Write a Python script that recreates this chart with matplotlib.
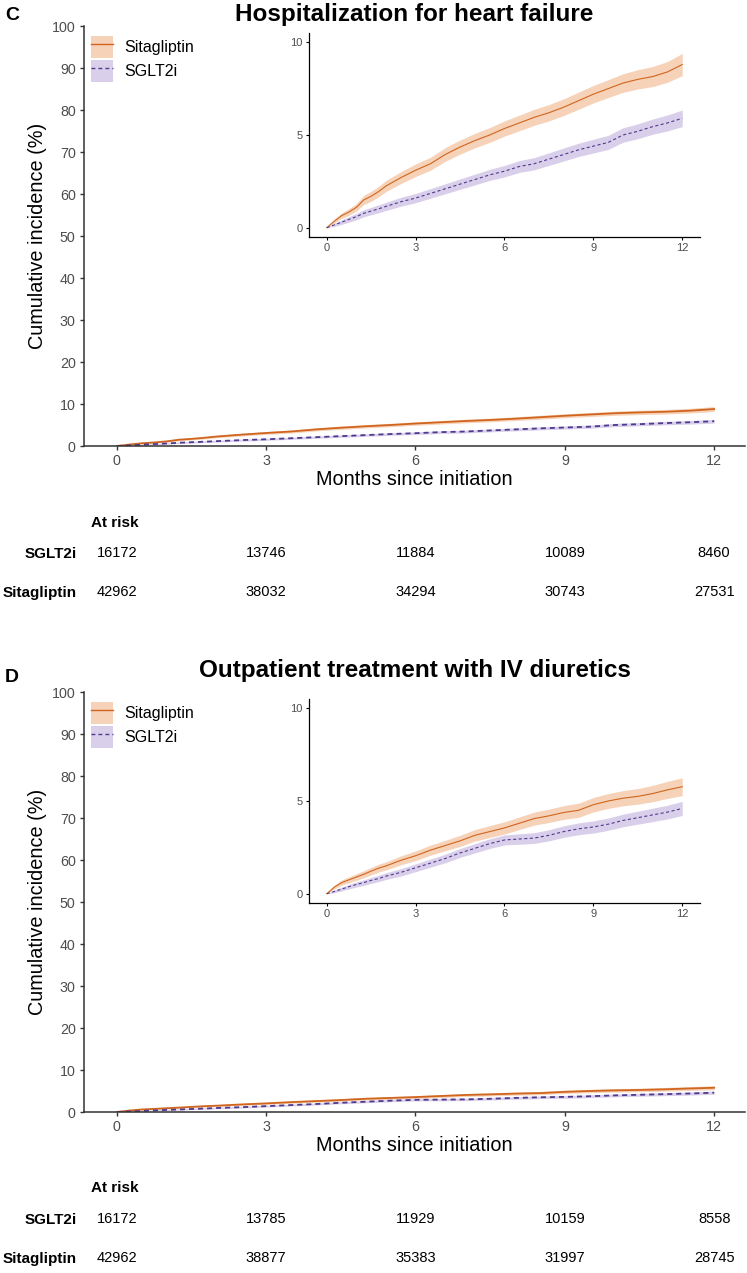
import numpy as np
import matplotlib
matplotlib.use('Agg')
import matplotlib.pyplot as plt
from matplotlib.patches import Patch
from matplotlib.lines import Line2D
from matplotlib.legend_handler import HandlerTuple
from matplotlib.transforms import blended_transform_factory

plt.rcParams['font.family'] = ['Liberation Sans', 'DejaVu Sans']

# months since initiation (shared grid for all curves)
months = [0, 0.25, 0.5, 0.75, 1.0, 1.25, 1.5, 1.75, 2.0, 2.5, 3.0, 3.5, 4.0, 4.5,
          5.0, 5.5, 6.0, 6.5, 7.0, 7.5, 8.0, 8.5, 9.0, 9.5, 10.0, 10.5, 11.0, 11.5, 12.0]

# C: hospitalization for heart failure, cumulative incidence (%)
hhf_sita = [0, 0.35, 0.65, 0.85, 1.1, 1.5, 1.7, 1.95, 2.25, 2.7, 3.1, 3.45, 3.95, 4.35,
            4.7, 5.0, 5.35, 5.65, 5.95, 6.2, 6.5, 6.85, 7.2, 7.5, 7.8, 8.0, 8.15, 8.4, 8.8]
hhf_sglt = [0, 0.15, 0.3, 0.45, 0.6, 0.78, 0.9, 1.02, 1.15, 1.4, 1.6, 1.85, 2.1, 2.35,
            2.6, 2.85, 3.05, 3.3, 3.45, 3.7, 3.95, 4.2, 4.4, 4.6, 5.0, 5.2, 5.45, 5.65, 5.9]
hhf_sita_hw = [0, 0.1, 0.15, 0.18, 0.2, 0.25, 0.27, 0.28, 0.3, 0.32, 0.34, 0.35, 0.37, 0.38,
               0.39, 0.4, 0.41, 0.42, 0.43, 0.44, 0.45, 0.46, 0.47, 0.48, 0.5, 0.52, 0.54, 0.56, 0.6]
hhf_sglt_hw = [0, 0.08, 0.12, 0.15, 0.17, 0.19, 0.2, 0.21, 0.22, 0.24, 0.25, 0.26, 0.27, 0.28,
               0.29, 0.3, 0.31, 0.32, 0.33, 0.34, 0.35, 0.36, 0.37, 0.38, 0.39, 0.4, 0.41, 0.43, 0.45]

# D: outpatient treatment with IV diuretics
ivd_sita = [0, 0.35, 0.6, 0.75, 0.9, 1.05, 1.22, 1.38, 1.5, 1.8, 2.05, 2.35, 2.6, 2.85,
            3.15, 3.35, 3.55, 3.8, 4.05, 4.2, 4.38, 4.5, 4.8, 5.0, 5.15, 5.25, 5.4, 5.6, 5.77]
ivd_sglt = [0, 0.12, 0.25, 0.38, 0.5, 0.6, 0.72, 0.82, 0.95, 1.15, 1.4, 1.65, 1.9, 2.2,
            2.45, 2.7, 2.9, 2.95, 3.0, 3.15, 3.35, 3.5, 3.6, 3.75, 3.95, 4.1, 4.25, 4.4, 4.6]
ivd_sita_hw = [0, 0.1, 0.14, 0.16, 0.18, 0.19, 0.2, 0.21, 0.22, 0.24, 0.26, 0.27, 0.28, 0.3,
               0.31, 0.32, 0.33, 0.34, 0.35, 0.36, 0.37, 0.38, 0.39, 0.4, 0.41, 0.42, 0.44, 0.46, 0.48]
ivd_sglt_hw = [0, 0.07, 0.1, 0.12, 0.14, 0.15, 0.16, 0.17, 0.18, 0.2, 0.21, 0.22, 0.23, 0.24,
               0.25, 0.26, 0.27, 0.28, 0.29, 0.3, 0.31, 0.32, 0.33, 0.33, 0.34, 0.35, 0.36, 0.37, 0.38]

risk_months = [0, 3, 6, 9, 12]
hhf_risk_sglt = [16172, 13746, 11884, 10089, 8460]
hhf_risk_sita = [42962, 38032, 34294, 30743, 27531]
ivd_risk_sglt = [16172, 13785, 11929, 10159, 8558]
ivd_risk_sita = [42962, 38877, 35383, 31997, 28745]

SITA_LINE = '#D0651F'
SITA_FILL = '#F6D2B8'
SGLT_LINE = '#4E3A8E'
SGLT_FILL = '#D9CFEA'
GREY = '#4D4D4D'
AXIS = '#333333'
DASH = (0, (2.8, 2.2))

W, H = 747, 1273


def box(l, t, r, b):
    return [l / W, 1 - b / H, (r - l) / W, (b - t) / H]


def fy(p):
    return 1 - p / H


def draw_curves(ax, sita, sglt, sita_hw, sglt_hw, lw):
    t = np.array(months)
    s1, s2 = np.array(sita), np.array(sglt)
    h1, h2 = np.array(sita_hw), np.array(sglt_hw)
    ax.fill_between(t, s1 - h1, s1 + h1, color=SITA_FILL, lw=0)
    ax.fill_between(t, s2 - h2, s2 + h2, color=SGLT_FILL, lw=0)
    ax.plot(t, s1, color=SITA_LINE, lw=lw)
    ax.plot(t, s2, color=SGLT_LINE, lw=lw, linestyle=DASH)


def draw_panel(fig, dy, letter, letter_y, title, title_y,
               sita, sglt, sita_hw, sglt_hw, risk_sglt, risk_sita):
    # main axes
    ax = fig.add_axes(box(84, 26 + dy, 745, 446 + dy))
    draw_curves(ax, sita, sglt, sita_hw, sglt_hw, 1.3)
    ax.set_xlim(-0.66, 12.62)
    ax.set_ylim(0, 100)
    ax.set_xticks(risk_months)
    ax.set_yticks(range(0, 101, 10))
    for s in ['top', 'right']:
        ax.spines[s].set_visible(False)
    for s in ['left', 'bottom']:
        ax.spines[s].set_color(AXIS)
        ax.spines[s].set_linewidth(1.1)
    ax.tick_params(labelsize=10.3, labelcolor=GREY, color=AXIS, length=3, width=1, pad=3)

    handles = [(Patch(fc=SITA_FILL, ec='none'), Line2D([], [], color=SITA_LINE, lw=1)),
               (Patch(fc=SGLT_FILL, ec='none'),
                Line2D([], [], color=SGLT_LINE, lw=1, linestyle=DASH))]
    ax.legend(handles, ['Sitagliptin', 'SGLT2i'],
              handler_map={tuple: HandlerTuple(ndivide=1, pad=0)},
              loc='upper left', bbox_to_anchor=(91 / W, fy(36 + dy)),
              bbox_transform=fig.transFigure, frameon=False, borderpad=0, borderaxespad=0,
              handlelength=1.38, handleheight=1.74, labelspacing=0.1, handletextpad=0.69,
              fontsize=11.5)

    # inset
    ins = fig.add_axes(box(309, 33 + dy, 700, 237 + dy))
    draw_curves(ins, sita, sglt, sita_hw, sglt_hw, 0.8)
    ins.set_xlim(-0.6, 12.6)
    ins.set_ylim(-0.5, 10.5)
    ins.set_xticks(risk_months)
    ins.set_yticks([0, 5, 10])
    for s in ['top', 'right']:
        ins.spines[s].set_visible(False)
    for s in ['left', 'bottom']:
        ins.spines[s].set_linewidth(0.9)
    ins.tick_params(labelsize=8, labelcolor=GREY, length=2.5, width=0.8, pad=2)
    ins.patch.set_alpha(0)

    # text
    fig.text(12 / W, fy(letter_y), letter, ha='center', va='baseline',
             fontsize=14, fontweight='bold')
    fig.text(414.5 / W, fy(title_y), title, ha='center', va='baseline',
             fontsize=17.5, fontweight='bold')
    fig.text(38 / W, fy(236 + dy), 'Cumulative incidence (%)', rotation=90,
             ha='center', va='center', fontsize=14.3)
    fig.text(414.5 / W, fy(485 + dy), 'Months since initiation', ha='center',
             va='baseline', fontsize=14.3)

    # at risk table
    tr = blended_transform_factory(ax.transData, fig.transFigure)
    fig.text(91 / W, fy(526.5 + dy), 'At risk', ha='left', va='baseline',
             fontsize=11, fontweight='bold')
    for name, vals, yc in [('SGLT2i', risk_sglt, 552), ('Sitagliptin', risk_sita, 591)]:
        fig.text(77 / W, fy(yc + 5.5 + dy), name, ha='right', va='baseline',
                 fontsize=11, fontweight='bold')
        for m, v in zip(risk_months, vals):
            ax.text(m, fy(yc + 5 + dy), str(v), transform=tr, ha='center',
                    va='baseline', fontsize=10.5)


fig = plt.figure(figsize=(W / 100, H / 100), dpi=100)
draw_panel(fig, 0, 'C', 19.5, 'Hospitalization for heart failure', 21,
           hhf_sita, hhf_sglt, hhf_sita_hw, hhf_sglt_hw, hhf_risk_sglt, hhf_risk_sita)
draw_panel(fig, 666, 'D', 681.5, 'Outpatient treatment with IV diuretics', 677,
           ivd_sita, ivd_sglt, ivd_sita_hw, ivd_sglt_hw, ivd_risk_sglt, ivd_risk_sita)
fig.savefig('out.png', dpi=100)
